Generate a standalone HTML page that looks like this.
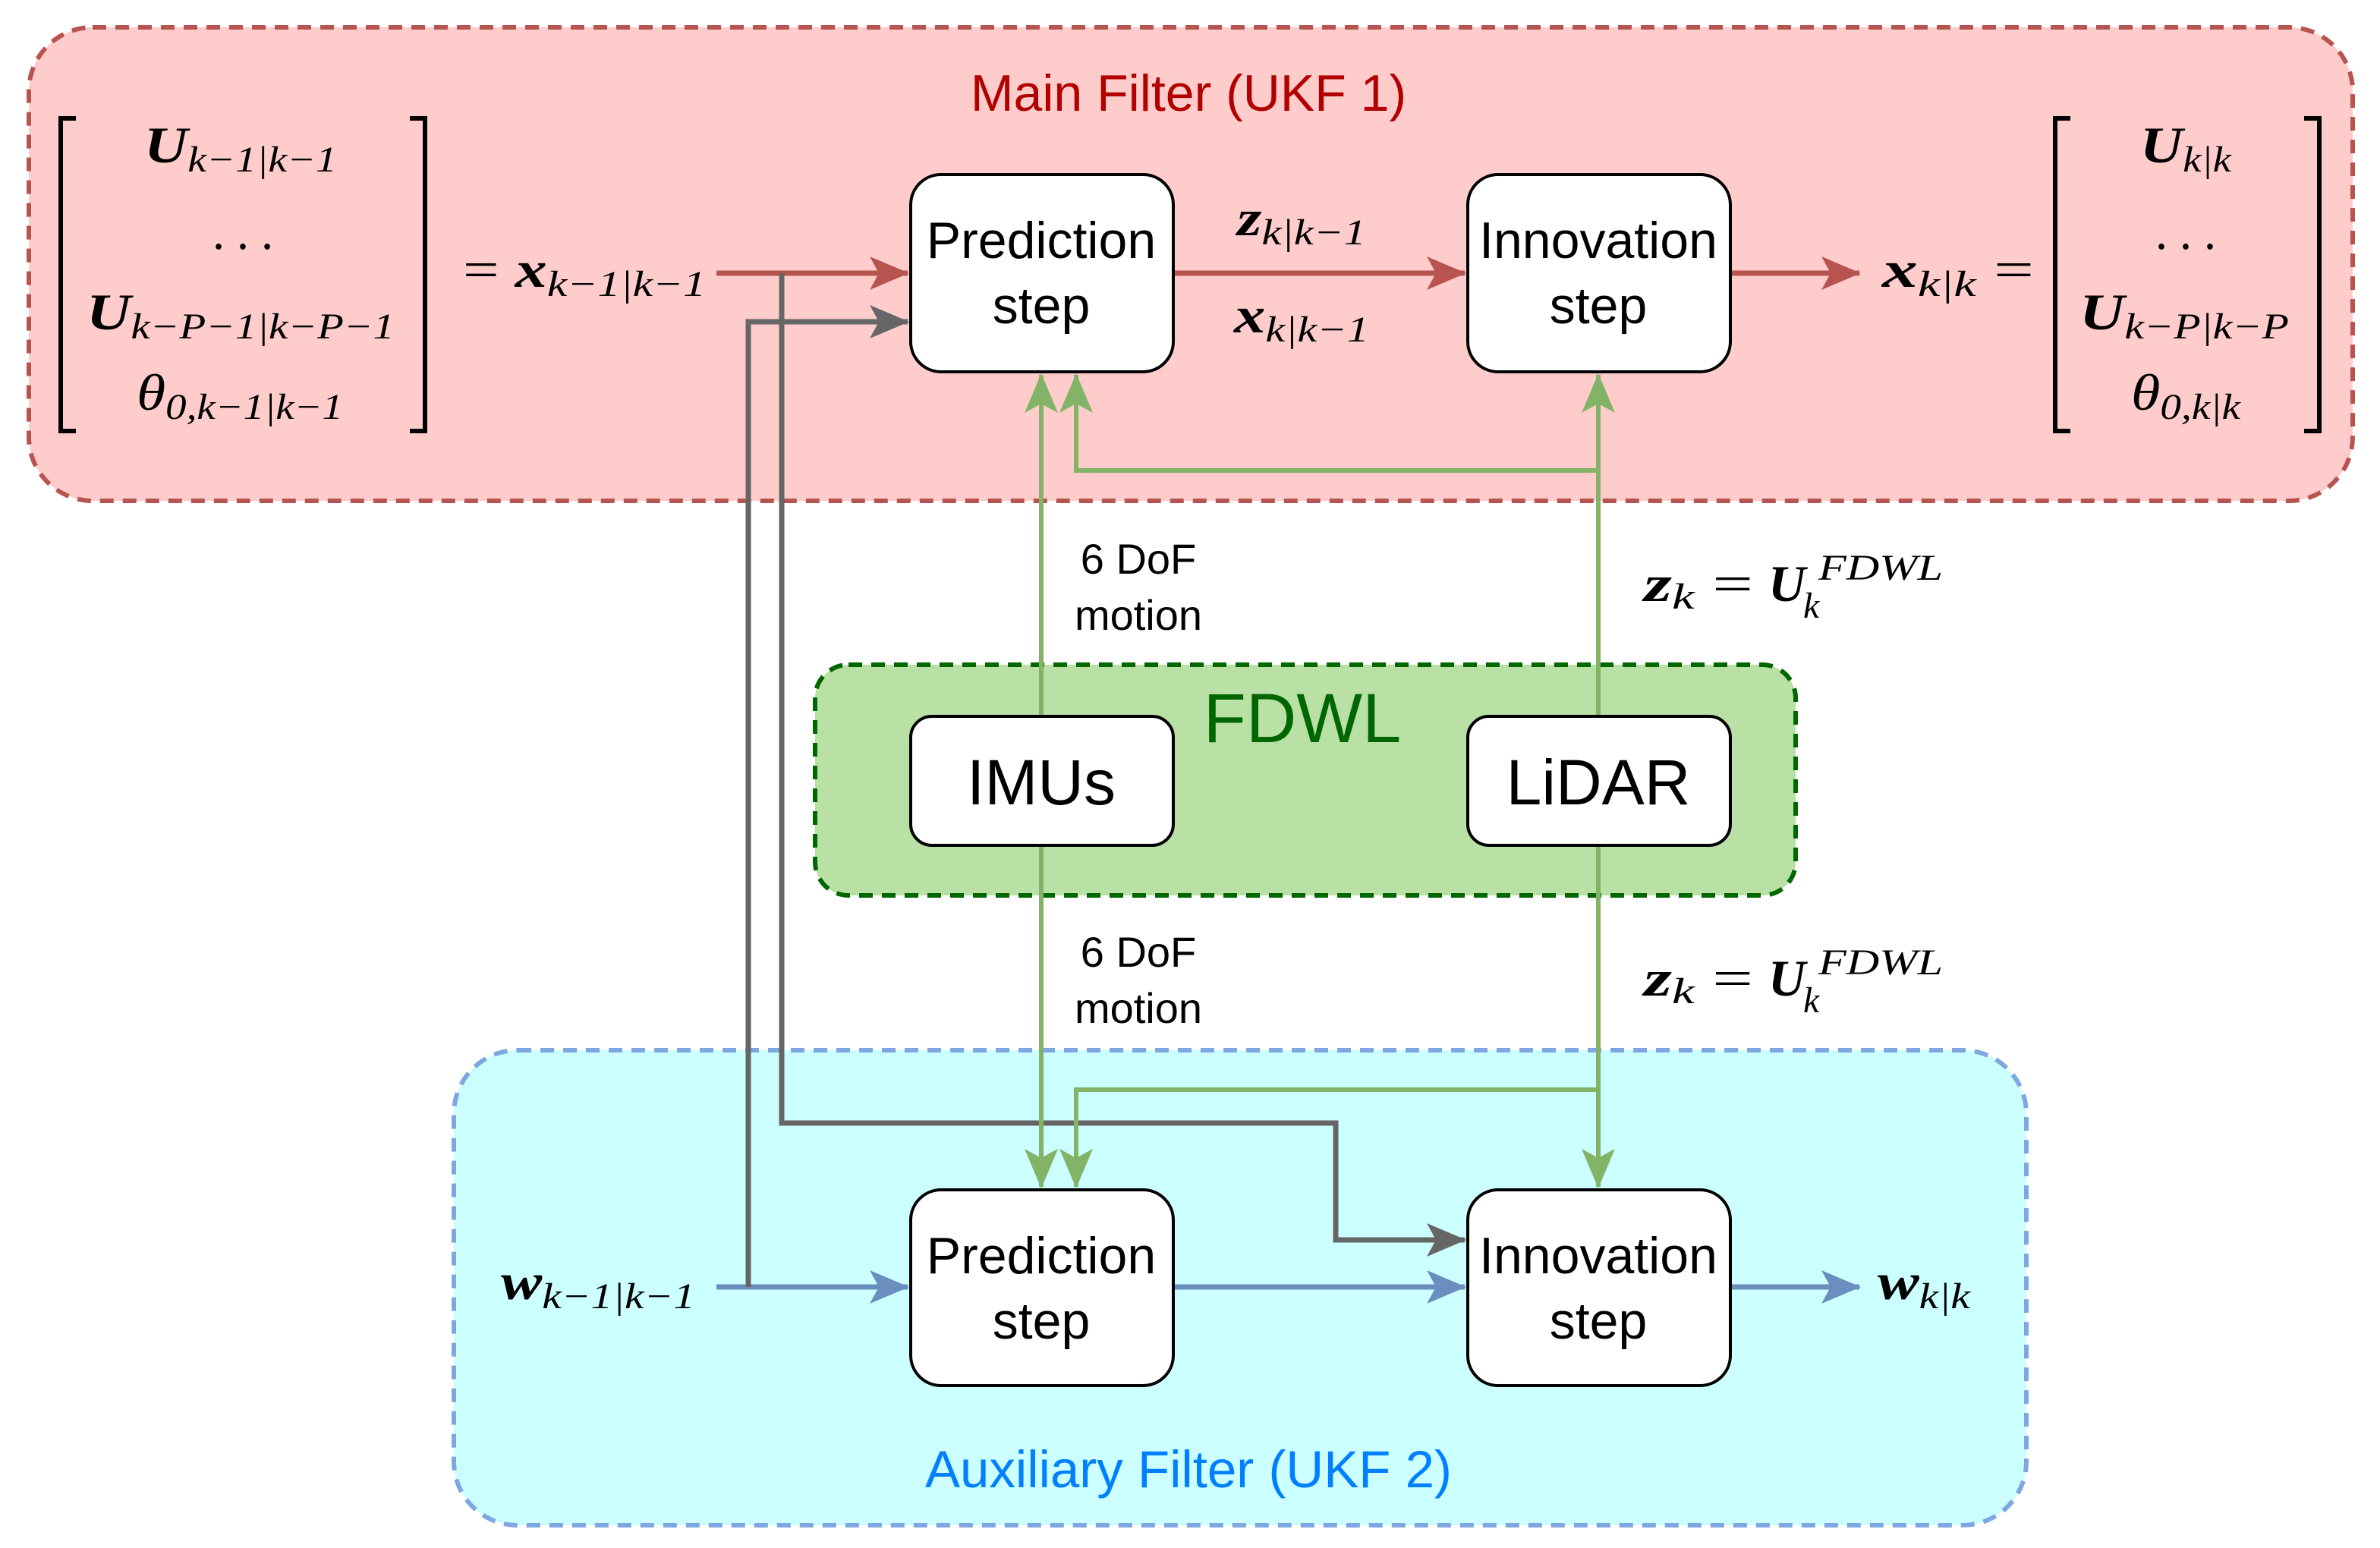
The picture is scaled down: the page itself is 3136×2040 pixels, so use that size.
<!DOCTYPE html>
<html><head><meta charset="utf-8"><style>html,body{margin:0;padding:0;background:#fff}svg{display:block}</style></head>
<body>
<svg width="3136" height="2040" viewBox="0 0 1568 1020" xmlns="http://www.w3.org/2000/svg">
<defs>
<marker id="ar" viewBox="0 0 26 22" refX="25" refY="11" markerWidth="26" markerHeight="22" markerUnits="userSpaceOnUse" orient="auto"><path d="M0,0 L26,11 L0,22 L6,11 Z" fill="#b85450"/></marker>
<marker id="ag" viewBox="0 0 26 22" refX="25" refY="11" markerWidth="26" markerHeight="22" markerUnits="userSpaceOnUse" orient="auto"><path d="M0,0 L26,11 L0,22 L6,11 Z" fill="#82b366"/></marker>
<marker id="ay" viewBox="0 0 26 22" refX="25" refY="11" markerWidth="26" markerHeight="22" markerUnits="userSpaceOnUse" orient="auto"><path d="M0,0 L26,11 L0,22 L6,11 Z" fill="#666666"/></marker>
<marker id="ab" viewBox="0 0 26 22" refX="25" refY="11" markerWidth="26" markerHeight="22" markerUnits="userSpaceOnUse" orient="auto"><path d="M0,0 L26,11 L0,22 L6,11 Z" fill="#6c8ebf"/></marker>
</defs>
<rect x="19" y="18" width="1531" height="312" rx="42" fill="#ffcccc" stroke="#b85450" stroke-width="3" stroke-dasharray="9,6"/>
<rect x="299" y="692" width="1036" height="313" rx="42" fill="#ccffff" stroke="#7ea6e0" stroke-width="3" stroke-dasharray="9,6"/>
<rect x="537" y="438" width="646" height="152" rx="22" fill="#b9e0a5" stroke="#006600" stroke-width="3" stroke-dasharray="9,6"/>
<g font-family="Liberation Sans, sans-serif" text-anchor="middle">
<text x="783" y="73" font-size="34" fill="#b20000">Main Filter (UKF 1)</text>
<text x="783" y="980" font-size="34.5" fill="#007fff">Auxiliary Filter (UKF 2)</text>
<text x="858" y="489" font-size="46" fill="#006600">FDWL</text>
</g>
<g fill="none" stroke-width="3.5">
<path d="M472,180 H598" stroke="#b85450" marker-end="url(#ar)"/>
<path d="M773,180 H965" stroke="#b85450" marker-end="url(#ar)"/>
<path d="M1140,180 H1225" stroke="#b85450" marker-end="url(#ar)"/>
<path d="M472,848 H598" stroke="#6c8ebf" marker-end="url(#ab)"/>
<path d="M773,848 H965" stroke="#6c8ebf" marker-end="url(#ab)"/>
<path d="M1140,848 H1225" stroke="#6c8ebf" marker-end="url(#ab)"/>
<path d="M515,180 V740 H880 V817 H965" stroke="#666666" marker-end="url(#ay)"/>
<path d="M493,848 V212 H598" stroke="#666666" marker-end="url(#ay)"/>
<g stroke="#82b366" stroke-width="3">
<path d="M686,472 V247" marker-end="url(#ag)"/>
<path d="M1053,472 V247" marker-end="url(#ag)"/>
<path d="M1053,310 H709 V247" marker-end="url(#ag)"/>
<path d="M686,557 V782" marker-end="url(#ag)"/>
<path d="M1053,557 V782" marker-end="url(#ag)"/>
<path d="M1053,718 H709 V782" marker-end="url(#ag)"/>
</g>
</g>
<g fill="#fff" stroke="#000" stroke-width="2">
<rect x="600" y="115" width="173" height="130" rx="20"/>
<rect x="967" y="115" width="173" height="130" rx="20"/>
<rect x="600" y="784" width="173" height="129" rx="20"/>
<rect x="967" y="784" width="173" height="129" rx="20"/>
<rect x="600" y="472" width="173" height="85" rx="14"/>
<rect x="967" y="472" width="173" height="85" rx="14"/>
</g>
<g font-family="Liberation Sans, sans-serif" text-anchor="middle" font-size="34" fill="#000">
<text x="686" y="170">Prediction</text><text x="686" y="213">step</text>
<text x="1053" y="170">Innovation</text><text x="1053" y="213">step</text>
<text x="686" y="839">Prediction</text><text x="686" y="882">step</text>
<text x="1053" y="839">Innovation</text><text x="1053" y="882">step</text>
<text x="686" y="530" font-size="42">IMUs</text>
<text x="1053" y="530" font-size="42">LiDAR</text>
<g font-size="28"><text x="750" y="378">6 DoF</text><text x="750" y="415">motion</text>
<text x="750" y="637">6 DoF</text><text x="750" y="674">motion</text></g>
</g>
<g font-family="Liberation Serif, serif" fill="#000" font-size="34">
<g stroke="#000" stroke-width="3" fill="none">
<path d="M50,78 H40 V284 H50"/><path d="M270,78 H280 V284 H270"/>
<path d="M1364,78 H1354 V284 H1364"/><path d="M1518,78 H1528 V284 H1518"/>
</g>
<text x="95" y="107" textLength="127" lengthAdjust="spacingAndGlyphs"><tspan font-weight="bold" font-style="italic">U</tspan><tspan font-size="24" font-style="italic" dy="6">k−1|k−1</tspan></text>
<text x="140" y="164" textLength="40" lengthAdjust="spacingAndGlyphs">. . .</text>
<text x="57" y="217" textLength="203" lengthAdjust="spacingAndGlyphs"><tspan font-weight="bold" font-style="italic">U</tspan><tspan font-size="24" font-style="italic" dy="6">k−P−1|k−P−1</tspan></text>
<text x="90" y="270" textLength="136" lengthAdjust="spacingAndGlyphs"><tspan font-style="italic">θ</tspan><tspan font-size="24" font-style="italic" dy="6">0,k−1|k−1</tspan></text>
<text x="1410" y="107" textLength="60" lengthAdjust="spacingAndGlyphs"><tspan font-weight="bold" font-style="italic">U</tspan><tspan font-size="24" font-style="italic" dy="6">k|k</tspan></text>
<text x="1420" y="164" textLength="40" lengthAdjust="spacingAndGlyphs">. . .</text>
<text x="1370" y="217" textLength="138" lengthAdjust="spacingAndGlyphs"><tspan font-weight="bold" font-style="italic">U</tspan><tspan font-size="24" font-style="italic" dy="6">k−P|k−P</tspan></text>
<text x="1404" y="270" textLength="72" lengthAdjust="spacingAndGlyphs"><tspan font-style="italic">θ</tspan><tspan font-size="24" font-style="italic" dy="6">0,k|k</tspan></text>
<text x="305" y="189" textLength="160" lengthAdjust="spacingAndGlyphs">= <tspan font-weight="bold" font-style="italic">x</tspan><tspan font-size="24" font-style="italic" dy="6">k−1|k−1</tspan></text>
<text x="1240" y="189" textLength="100" lengthAdjust="spacingAndGlyphs"><tspan font-weight="bold" font-style="italic">x</tspan><tspan font-size="24" font-style="italic" dy="6">k|k</tspan><tspan dy="-6"> =</tspan></text>
<text x="815" y="155" textLength="85" lengthAdjust="spacingAndGlyphs"><tspan font-weight="bold" font-style="italic">z</tspan><tspan font-size="24" font-style="italic" dy="6">k|k−1</tspan></text>
<text x="813" y="219" textLength="89" lengthAdjust="spacingAndGlyphs"><tspan font-weight="bold" font-style="italic">x</tspan><tspan font-size="24" font-style="italic" dy="6">k|k−1</tspan></text>
<text x="330" y="856" textLength="128" lengthAdjust="spacingAndGlyphs"><tspan font-weight="bold" font-style="italic">w</tspan><tspan font-size="24" font-style="italic" dy="6">k−1|k−1</tspan></text>
<text x="1237" y="856" textLength="61" lengthAdjust="spacingAndGlyphs"><tspan font-weight="bold" font-style="italic">w</tspan><tspan font-size="24" font-style="italic" dy="6">k|k</tspan></text>
<g>
<text x="1083" y="396" textLength="72" lengthAdjust="spacingAndGlyphs"><tspan font-weight="bold" font-style="italic">z</tspan><tspan font-size="24" font-style="italic" dy="5">k</tspan><tspan dy="-5"> =</tspan></text>
<text x="1165" y="396" font-weight="bold" font-style="italic">U</text>
<text x="1198" y="382" font-size="24" font-style="italic" textLength="82" lengthAdjust="spacingAndGlyphs">FDWL</text>
<text x="1188" y="407" font-size="24" font-style="italic">k</text>
<text x="1083" y="656" textLength="72" lengthAdjust="spacingAndGlyphs"><tspan font-weight="bold" font-style="italic">z</tspan><tspan font-size="24" font-style="italic" dy="5">k</tspan><tspan dy="-5"> =</tspan></text>
<text x="1165" y="656" font-weight="bold" font-style="italic">U</text>
<text x="1198" y="642" font-size="24" font-style="italic" textLength="82" lengthAdjust="spacingAndGlyphs">FDWL</text>
<text x="1188" y="667" font-size="24" font-style="italic">k</text>
</g>
</g>
</svg>
</body></html>
